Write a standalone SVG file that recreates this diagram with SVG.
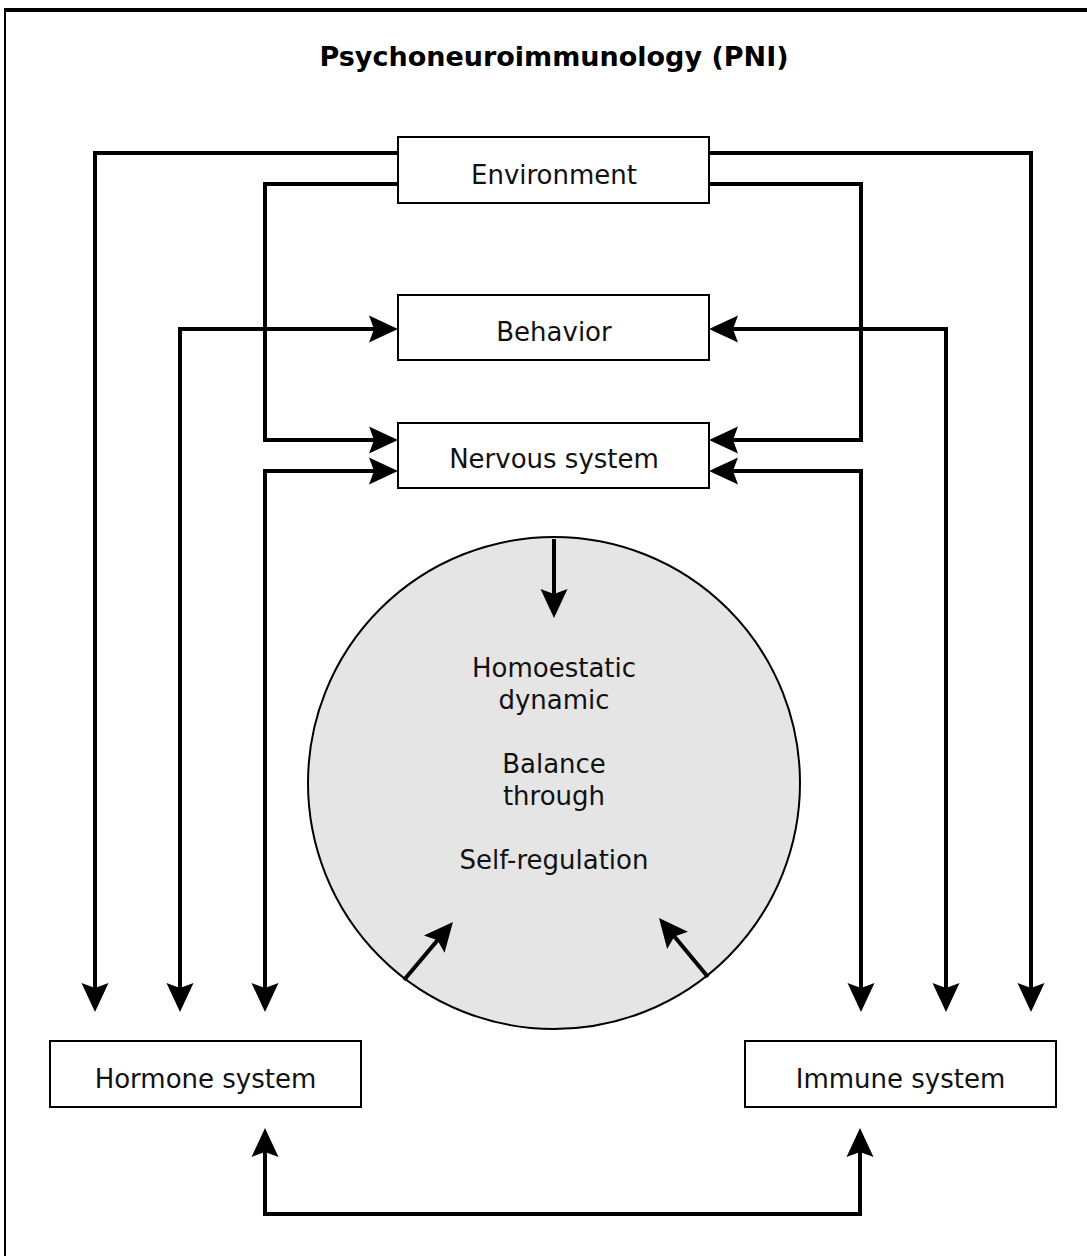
<svg xmlns="http://www.w3.org/2000/svg" width="1087" height="1256" viewBox="0 0 1087 1256">
<style>
.box{fill:#fff;stroke:#000;stroke-width:2}
.lbl{font-family:"DejaVu Sans",Verdana,sans-serif;font-size:26px;fill:#111;text-anchor:middle}
.title{font-family:"DejaVu Sans",Verdana,sans-serif;font-size:27px;font-weight:bold;fill:#000;text-anchor:middle}
.con{fill:none;stroke:#000;stroke-width:4;stroke-linejoin:miter}
</style>
<defs>
<marker id="ah" viewBox="-20 -15 31 30" markerWidth="31" markerHeight="30" refX="0" refY="0" markerUnits="userSpaceOnUse" orient="auto-start-reverse">
<path d="M10,0 L-19,-13.5 L-14,0 L-19,13.5 Z" fill="#000"/>
</marker>
</defs>
<rect width="1087" height="1256" fill="#fff"/>
<g id="frame">
<line x1="4" y1="10" x2="1087" y2="10" stroke="#000" stroke-width="4"/>
<line x1="5" y1="8" x2="5" y2="1256" stroke="#000" stroke-width="2"/>
</g>
<text class="title" x="554" y="66">Psychoneuroimmunology (PNI)</text>
<g id="circle">
<circle cx="554" cy="783" r="246" fill="#e5e5e5" stroke="#000" stroke-width="2"/>
<text class="lbl" x="554" y="677">Homoestatic</text>
<text class="lbl" x="554" y="709">dynamic</text>
<text class="lbl" x="554" y="773">Balance</text>
<text class="lbl" x="554" y="805">through</text>
<text class="lbl" x="554" y="869">Self-regulation</text>
</g>
<g id="connectors">
<path class="con" d="M398,153 H95 V1002" marker-end="url(#ah)"/>
<path class="con" d="M398,184 H265 V440 H388" marker-end="url(#ah)"/>
<path class="con" d="M388,329 H180 V1002" marker-start="url(#ah)" marker-end="url(#ah)"/>
<path class="con" d="M388,471 H265 V1002" marker-start="url(#ah)" marker-end="url(#ah)"/>
<path class="con" d="M709,153 H1031 V1002" marker-end="url(#ah)"/>
<path class="con" d="M709,184 H861 V440 H719" marker-end="url(#ah)"/>
<path class="con" d="M719,329 H946 V1002" marker-start="url(#ah)" marker-end="url(#ah)"/>
<path class="con" d="M719,471 H861 V1002" marker-start="url(#ah)" marker-end="url(#ah)"/>
<path class="con" d="M265,1138 V1214 H860 V1138" marker-start="url(#ah)" marker-end="url(#ah)"/>
<path class="con" d="M554,539 V608" marker-end="url(#ah)"/>
<path class="con" d="M404,980 L446.5,929.6" marker-end="url(#ah)"/>
<path class="con" d="M708,977 L665.4,925.7" marker-end="url(#ah)"/>
</g>
<g id="environment">
<rect class="box" x="398" y="137" width="311" height="66"/>
<text class="lbl" x="554" y="184">Environment</text>
</g>
<g id="behavior">
<rect class="box" x="398" y="295" width="311" height="65"/>
<text class="lbl" x="554" y="341">Behavior</text>
</g>
<g id="nervous">
<rect class="box" x="398" y="423" width="311" height="65"/>
<text class="lbl" x="554" y="468">Nervous system</text>
</g>
<g id="hormone">
<rect class="box" x="50" y="1041" width="311" height="66"/>
<text class="lbl" x="205.5" y="1088">Hormone system</text>
</g>
<g id="immune">
<rect class="box" x="745" y="1041" width="311" height="66"/>
<text class="lbl" x="900.5" y="1088">Immune system</text>
</g>
</svg>
